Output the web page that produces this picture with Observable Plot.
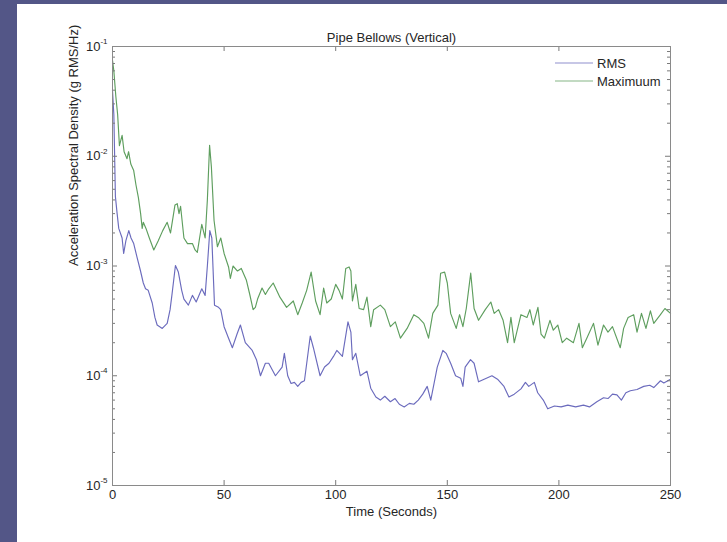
<!DOCTYPE html>
<html><head><meta charset="utf-8">
<script src="https://cdn.jsdelivr.net/npm/d3@7"></script>
<script src="https://cdn.jsdelivr.net/npm/@observablehq/plot@0.6"></script>
<style>
html,body{margin:0;padding:0;background:#535687;width:727px;height:542px;overflow:hidden;}
#panel{position:absolute;left:17px;top:4px;width:710px;height:538px;background:#fff;}
#panel svg{position:absolute;left:0;top:0;}
</style></head><body><div id="panel"></div>
<script>
const title = "Pipe Bellows (Vertical)";
const xLabel = "Time (Seconds)";
const yLabel = "Acceleration Spectral Density (g RMS/Hz)";
const seriesNames = ["RMS", "Maximuum"];
const seriesColors = ["#6b6bbd", "#5e9e5e"];
const xTicks = [0, 50, 100, 150, 200, 250];
const yExponents = [-1, -2, -3, -4, -5];

const rmsTime = [0,0.6,1.3,2,2.8,4.3,5,6,7.3,8.3,9.5,11,12.5,13.8,14.8,16,17.8,19,20,22.3,24.5,25.8,26.7,28.2,29.5,31,32,34,35.8,37.5,40,41.5,42.5,43.6,44.5,45.7,47.5,48.5,50,52,53.7,55.8,57.3,59.5,62.6,64.5,66.3,68.5,70,73,76,77,78.5,80,81.5,83,84.5,86,88.6,90,93,95,97,99,100.5,103,105.5,106.8,107.5,109,111,114,115.7,118,120,122,124.5,126.6,128.5,130.7,133,135,137,139,141,142.6,145.5,148,149.5,151.5,153.7,156,157,158,160.4,162,164,166.5,170,172.5,175.4,177.6,180,183,185,186.5,189,190.5,193,195,198,201,204,207.5,211,213.7,217,220,222,224,226,228,230,232,235,238,240.7,242.5,245.5,247,250];
const rmsValue = [0.04,0.024,0.0043,0.0031,0.0022,0.0018,0.0013,0.0017,0.0021,0.0018,0.0016,0.0012,0.00091,0.0007,0.00062,0.0006,0.00046,0.00034,0.00029,0.00027,0.0003,0.0004,0.00056,0.00101,0.00088,0.0006,0.0005,0.00044,0.00054,0.00047,0.00062,0.00054,0.001,0.0021,0.0018,0.00044,0.00042,0.0004,0.00028,0.00022,0.00018,0.00024,0.00029,0.0002,0.00017,0.00014,0.0001,0.00013,0.00013,0.0001,0.00012,0.00016,0.0001,0.000085,0.000087,0.00008,0.000087,0.00009,0.00023,0.00018,0.0001,0.00012,0.00013,0.00015,0.00017,0.00015,0.00031,0.00025,0.00014,0.00016,0.0001,0.00011,0.000077,0.000064,0.00006,0.000065,0.000058,0.000062,0.000055,0.000052,0.000056,0.000055,0.00006,0.000068,0.00008,0.00006,0.00012,0.00017,0.00016,0.00013,0.0001,0.000095,0.00008,0.00012,0.00014,0.00013,0.000088,0.000093,0.0001,0.000093,0.00008,0.000064,0.000068,0.000076,0.000087,0.00008,0.000087,0.00007,0.00006,0.00005,0.000053,0.000052,0.000054,0.000052,0.000054,0.000052,0.000058,0.000063,0.000062,0.000068,0.000067,0.00006,0.00007,0.000073,0.000075,0.00008,0.000082,0.000078,0.00009,0.000086,0.000093];

const maxTime = [0,0.6,1.5,2.3,3.1,4.3,5.2,6.5,7.2,8.2,9.5,10.5,11.6,12.6,13.3,13.8,15,16.5,18.5,20.5,22.5,24.5,26,28,29,29.8,30.5,32,33.6,35.8,37,38,40,41.5,42.5,43.5,44.3,45.5,47,48.5,50,52,52.8,54,56,57.7,60,61.5,63,64,65,67,68.5,70,72,75,78,81,83,85,87,89,91,93,94.6,96,98,100,101.5,103,104.5,106,106.8,107.5,109,110.5,112.5,114,115.7,117,120,122,124.5,126.7,129,132,135,137,139.5,141.6,143.5,145.8,147,148.8,150,151.5,154,155.5,157,158.5,160.5,162,164,167,169.5,171,173,175,177,178.5,180,183,185.7,187,188.5,190.6,192,193.5,196,197.5,199.5,201.5,203.5,206.5,209,210.5,212.5,215.5,217.5,220,222,224,227.5,229,231,233.5,235,237,239,241,242.5,245.5,247.5,250];
const maxValue = [0.075,0.06,0.035,0.024,0.0125,0.0155,0.011,0.0095,0.011,0.0085,0.0074,0.0055,0.0042,0.003,0.0022,0.0025,0.0022,0.0018,0.0014,0.0017,0.0021,0.0025,0.002,0.0036,0.0037,0.003,0.0035,0.0018,0.0016,0.0016,0.0014,0.00133,0.0024,0.0018,0.004,0.0126,0.008,0.0026,0.0015,0.0018,0.0013,0.00098,0.00077,0.001,0.0009,0.00095,0.00074,0.00055,0.0004,0.00042,0.0005,0.00063,0.00055,0.00062,0.0007,0.00052,0.00042,0.00048,0.00036,0.00046,0.0006,0.00088,0.00048,0.00036,0.00063,0.00046,0.0005,0.00068,0.0006,0.0005,0.00095,0.00098,0.0009,0.00048,0.00068,0.00041,0.0004,0.00052,0.00028,0.0004,0.00044,0.0004,0.00028,0.00031,0.00022,0.00027,0.00036,0.00034,0.0003,0.00022,0.00037,0.00044,0.00086,0.00088,0.0007,0.00037,0.00027,0.00036,0.00028,0.00041,0.00086,0.00041,0.00032,0.0004,0.00047,0.00037,0.0004,0.00032,0.0002,0.00034,0.0002,0.00036,0.00034,0.0004,0.00029,0.00042,0.00024,0.00022,0.00032,0.00026,0.00029,0.0002,0.00022,0.0002,0.0003,0.00018,0.00022,0.0003,0.00019,0.00029,0.00025,0.00028,0.00018,0.00027,0.00034,0.00036,0.00025,0.00037,0.00027,0.00039,0.0003,0.00036,0.00041,0.00037];

const rmsData = rmsTime.map((t, i) => ({t, v: rmsValue[i]}));
const maxData = maxTime.map((t, i) => ({t, v: maxValue[i]}));

const majorY = yExponents.map(e => Math.pow(10, e));
const minorY = [];
for (let e = -5; e <= -2; e++) for (let k = 2; k <= 9; k++) minorY.push(k * Math.pow(10, e));

const W = 710, H = 538, mL = 95, mR = 57, mT = 42, mB = 57;
const fw = W - mL - mR, fh = H - mT - mB;
const font = "'Liberation Sans', Arial, sans-serif";
const tickColor = "#7a7a7a";
const textColor = "#262626";

const plot = Plot.plot({
  width: W, height: H,
  marginLeft: mL, marginRight: mR, marginTop: mT, marginBottom: mB,
  style: {fontFamily: font, fontSize: "13px", background: "transparent", color: textColor},
  x: {domain: [0, 250], axis: null},
  y: {type: "log", domain: [1e-5, 1e-1], axis: null},
  marks: [
    Plot.line(maxData, {x: "t", y: "v", stroke: seriesColors[1], strokeWidth: 1.15}),
    Plot.line(rmsData, {x: "t", y: "v", stroke: seriesColors[0], strokeWidth: 1.15}),
    Plot.tickY(majorY, {y: d => d, insetRight: fw - 5, stroke: tickColor}),
    Plot.tickY(majorY, {y: d => d, insetLeft: fw - 5, stroke: tickColor}),
    Plot.tickY(minorY, {y: d => d, insetRight: fw - 3, stroke: tickColor}),
    Plot.tickY(minorY, {y: d => d, insetLeft: fw - 3, stroke: tickColor}),
    Plot.tickX(xTicks, {x: d => d, insetTop: fh - 5, stroke: tickColor}),
    Plot.tickX(xTicks, {x: d => d, insetBottom: fh - 5, stroke: tickColor}),
    Plot.frame({stroke: "#8a8a8a"}),
    Plot.text(xTicks, {x: d => d, frameAnchor: "bottom", dy: 13, text: d => String(d), fontSize: 13, fill: textColor}),
    Plot.text(yExponents, {y: e => Math.pow(10, e), frameAnchor: "left", dx: -12, textAnchor: "end", text: () => "10", fontSize: 13, fill: textColor}),
    Plot.text(yExponents, {y: e => Math.pow(10, e), frameAnchor: "left", dx: -5, dy: -5, textAnchor: "end", text: e => String(e), fontSize: 8, fill: textColor}),
    Plot.text([title], {frameAnchor: "top", dy: -14, text: d => d, fontSize: 13, fill: textColor}),
    Plot.text([xLabel], {frameAnchor: "bottom", dy: 30, text: d => d, fontSize: 13, fill: textColor}),
    Plot.text([yLabel], {frameAnchor: "left", dx: -39, rotate: -90, text: d => d, fontSize: 13, fill: textColor})
  ]
});
document.getElementById("panel").appendChild(plot);

// legend (top-right, inside frame)
const svg = d3.select(plot);
const lg = svg.append("g").attr("font-family", font).attr("font-size", 13).attr("fill", textColor).attr("text-anchor", "start");
seriesNames.forEach((name, i) => {
  const y = 59 + i * 18;
  lg.append("line").attr("x1", 538).attr("x2", 576).attr("y1", y).attr("y2", y)
    .attr("stroke", seriesColors[i]).attr("stroke-opacity", 0.75).attr("stroke-width", 1.2);
  lg.append("text").attr("x", 580).attr("y", y).attr("dy", "0.35em").attr("text-anchor", "start").text(name);
});
</script>
</body></html>
